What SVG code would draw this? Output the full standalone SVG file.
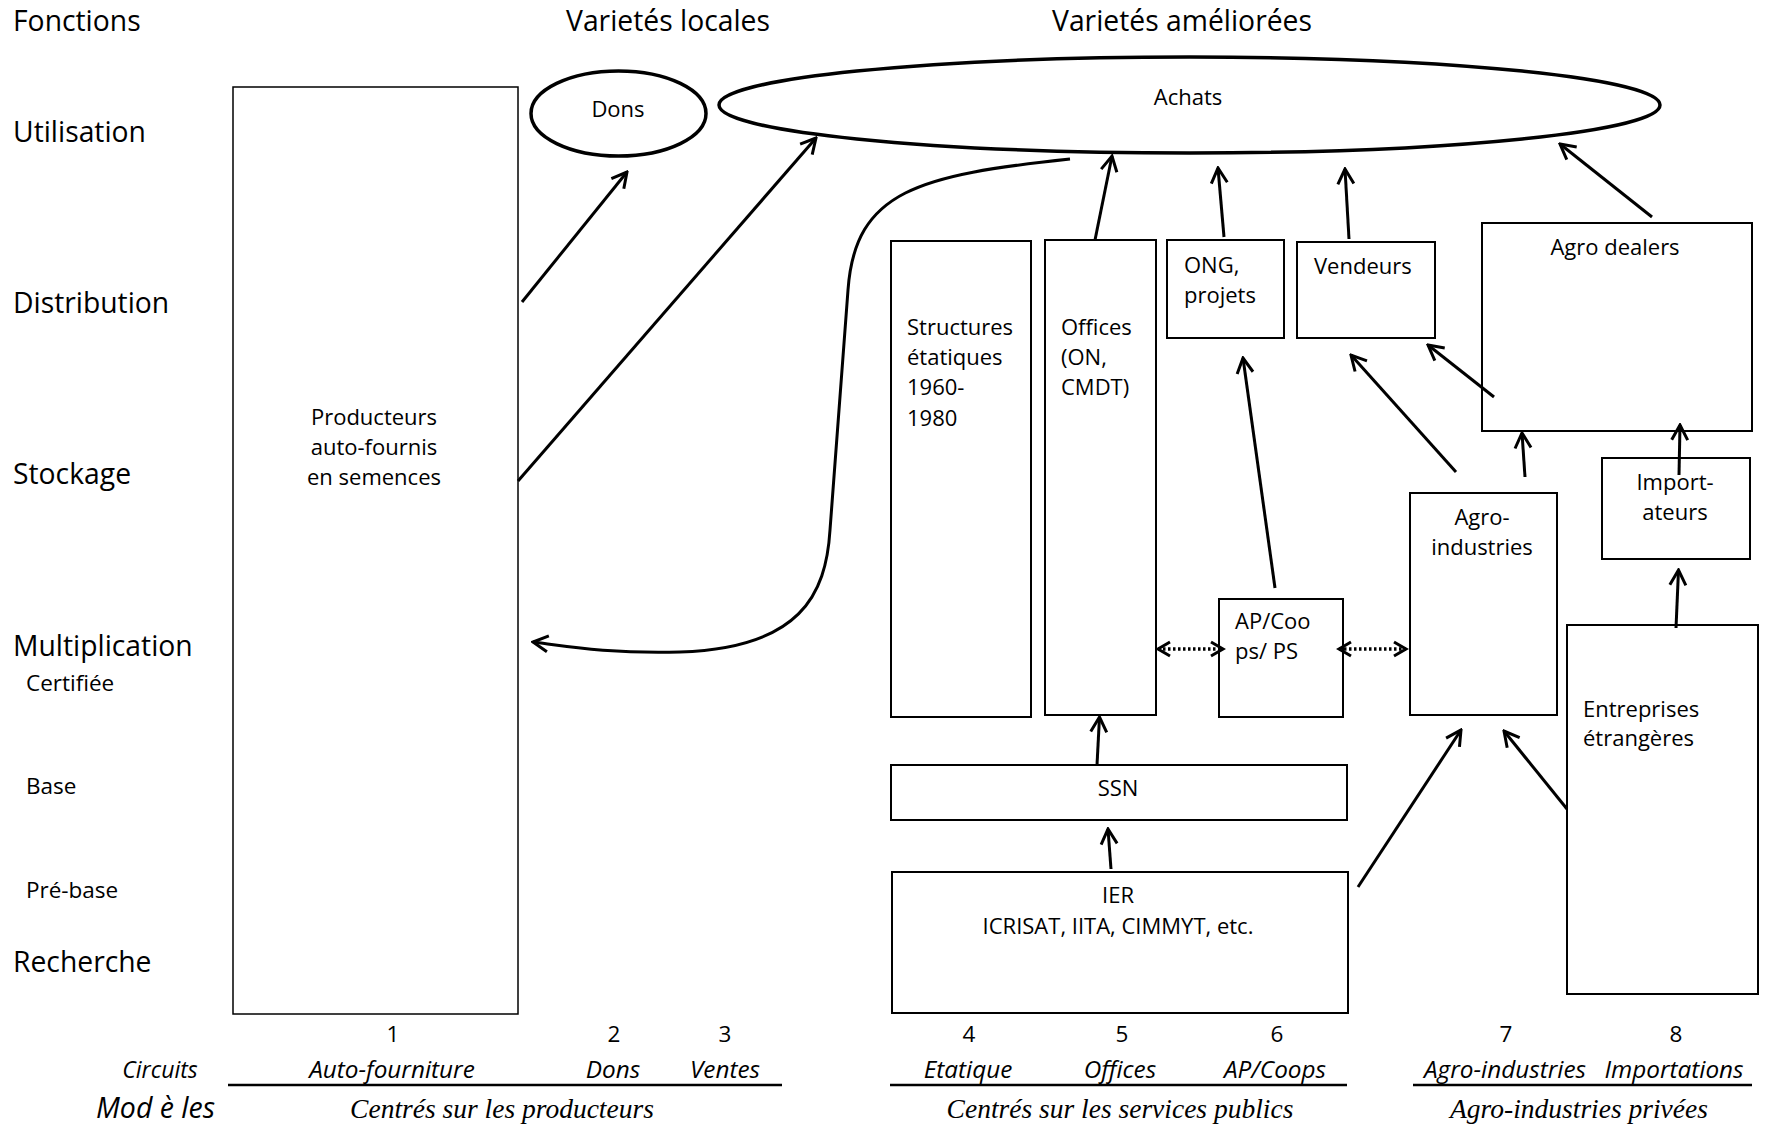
<svg xmlns="http://www.w3.org/2000/svg" width="1767" height="1131" viewBox="0 0 1767 1131">
<style>
text{font-family:"Open Sans","Liberation Sans",sans-serif;fill:#000}
.h{font-size:28.3px}
.b{font-size:22px}
.s{font-size:22.5px}
.it{font-style:italic;font-size:24.3px}
.ser{font-family:"Liberation Serif","Times New Roman",serif;font-style:italic;font-size:27.5px}
.c{text-anchor:middle}
.box{fill:#fff;stroke:#000;stroke-width:2}
.ell{fill:#fff;stroke:#000;stroke-width:3.5}
.ar{fill:none;stroke:#000;stroke-width:3;marker-end:url(#ah)}
.dot{fill:none;stroke:#000;stroke-width:3.5;stroke-dasharray:2.5 2.5;marker-start:url(#ah2);marker-end:url(#ah2)}
.rule{stroke:#000;stroke-width:2.5}
</style>
<defs>
<marker id="ah" viewBox="0 0 20 20" refX="18" refY="10" markerWidth="20" markerHeight="20" markerUnits="userSpaceOnUse" orient="auto">
<path d="M3,2 L18,10 L3,18" fill="none" stroke="#000" stroke-width="3"/>
</marker>
<marker id="ah2" viewBox="0 0 20 20" refX="17" refY="10" markerWidth="20" markerHeight="20" markerUnits="userSpaceOnUse" orient="auto-start-reverse">
<path d="M5,3 L17,10 L5,17" fill="none" stroke="#000" stroke-width="3"/>
</marker>
</defs>
<rect width="1767" height="1131" fill="#fff"/>

<g id="labels">
<text class="h" x="13" y="31">Fonctions</text>
<text class="h c" x="668" y="31">Varietés locales</text>
<text class="h c" x="1182" y="31">Varietés améliorées</text>
<text class="h" x="13" y="142">Utilisation</text>
<text class="h" x="13" y="313">Distribution</text>
<text class="h" x="13" y="484">Stockage</text>
<text class="h" x="13" y="656">Multiplication</text>
<text class="s" x="26" y="691">Certifiée</text>
<text class="s" x="26" y="794">Base</text>
<text class="s" x="26" y="898">Pré-base</text>
<text class="h" x="13" y="972">Recherche</text>
</g>

<g id="producteurs">
<rect x="233" y="87" width="285" height="927" fill="#fff" stroke="#000" stroke-width="1.5"/>
<text class="b c" x="374" y="425">Producteurs</text>
<text class="b c" x="374" y="455">auto-fournis</text>
<text class="b c" x="374" y="485">en semences</text>
</g>
<g id="dons">
<ellipse class="ell" cx="618.5" cy="113.5" rx="87.5" ry="42.5"/>
<text class="b c" x="618" y="117">Dons</text>
</g>
<g id="achats">
<ellipse class="ell" cx="1189.5" cy="105" rx="470.5" ry="48"/>
<text class="b c" x="1188" y="105">Achats</text>
</g>
<g id="structures">
<rect class="box" x="891" y="241" width="140" height="476"/>
<text class="b" x="907" y="335">Structures</text>
<text class="b" x="907" y="365">étatiques</text>
<text class="b" x="907" y="395">1960-</text>
<text class="b" x="907" y="426">1980</text>
</g>
<g id="offices">
<rect class="box" x="1045" y="240" width="111" height="475"/>
<text class="b" x="1061" y="335">Offices</text>
<text class="b" x="1061" y="365">(ON,</text>
<text class="b" x="1061" y="395">CMDT)</text>
</g>
<g id="ong">
<rect class="box" x="1167" y="240" width="117" height="98"/>
<text class="b" x="1184" y="273">ONG,</text>
<text class="b" x="1184" y="303">projets</text>
</g>
<g id="vendeurs">
<rect class="box" x="1297" y="242" width="138" height="96"/>
<text class="b" x="1314" y="274">Vendeurs</text>
</g>
<g id="agrodealers">
<rect class="box" x="1482" y="223" width="270" height="208"/>
<text class="b c" x="1615" y="255">Agro dealers</text>
</g>
<g id="importateurs">
<rect class="box" x="1602" y="458" width="148" height="101"/>
<text class="b c" x="1675" y="490">Import-</text>
<text class="b c" x="1675" y="520">ateurs</text>
</g>
<g id="agroindustries">
<rect class="box" x="1410" y="493" width="147" height="222"/>
<text class="b c" x="1482" y="525">Agro-</text>
<text class="b c" x="1482" y="555">industries</text>
</g>
<g id="apcoops">
<rect class="box" x="1219" y="599" width="124" height="118"/>
<text class="b" x="1235" y="629">AP/Coo</text>
<text class="b" x="1235" y="659">ps/ PS</text>
</g>
<g id="ssn">
<rect class="box" x="891" y="765" width="456" height="55"/>
<text class="b c" x="1118" y="796">SSN</text>
</g>
<g id="ier">
<rect class="box" x="892" y="872" width="456" height="141"/>
<text class="b c" x="1118" y="903">IER</text>
<text class="b c" x="1118" y="934">ICRISAT, IITA, CIMMYT, etc.</text>
</g>
<g id="entreprises">
<rect class="box" x="1567" y="625" width="191" height="369"/>
<text class="b" x="1583" y="717">Entreprises</text>
<text class="b" x="1583" y="746">étrangères</text>
</g>

<g id="connectors">
<path class="ar" d="M522,302 L627,172"/>
<path class="ar" d="M518,481 L816,138"/>
<path class="ar" d="M1070,159 C920,175 855,190 848,290 L830,530 C826,595 800,648 680,652 C610,654 565,646 533,642"/>
<path class="ar" d="M1095,240 L1112,156"/>
<path class="ar" d="M1224,237 L1218,168"/>
<path class="ar" d="M1349,239 L1345,169"/>
<path class="ar" d="M1652,217 L1560,144"/>
<path class="ar" d="M1494,397 L1428,345"/>
<path class="ar" d="M1456,472 L1351,355"/>
<path class="ar" d="M1525,477 L1522,433"/>
<path class="ar" d="M1679,475 L1680,425"/>
<path class="ar" d="M1275,588 L1243,358"/>
<path class="dot" d="M1158,649 L1223,649"/>
<path class="dot" d="M1339,649 L1406,649"/>
<path class="ar" d="M1097,765 L1099.5,717"/>
<path class="ar" d="M1111,869 L1108,829"/>
<path class="ar" d="M1358,887 L1461,730"/>
<path class="ar" d="M1567,809 L1504,731"/>
<path class="ar" d="M1676,628 L1678.5,570"/>
</g>

<g id="footer">
<text class="s c" x="393" y="1042">1</text>
<text class="s c" x="614" y="1042">2</text>
<text class="s c" x="725" y="1042">3</text>
<text class="s c" x="969" y="1042">4</text>
<text class="s c" x="1122" y="1042">5</text>
<text class="s c" x="1277" y="1042">6</text>
<text class="s c" x="1506" y="1042">7</text>
<text class="s c" x="1676" y="1042">8</text>
<text class="it c" x="160" y="1078" style="font-size:23px">Circuits</text>
<text class="it c" x="392" y="1078">Auto-fourniture</text>
<text class="it c" x="613" y="1078">Dons</text>
<text class="it c" x="725" y="1078">Ventes</text>
<text class="it c" x="968" y="1078">Etatique</text>
<text class="it c" x="1120" y="1078">Offices</text>
<text class="it c" x="1275" y="1078">AP/Coops</text>
<text class="it c" x="1505" y="1078">Agro-industries</text>
<text class="it c" x="1674" y="1078">Importations</text>
<line class="rule" x1="228" y1="1085" x2="782" y2="1085"/>
<line class="rule" x1="890" y1="1085" x2="1347" y2="1085"/>
<line class="rule" x1="1413" y1="1085" x2="1752" y2="1085"/>
<text x="96" y="1118" style="font-style:italic;font-size:28.5px">Mod è les</text>
<text class="ser c" x="502" y="1118">Centrés sur les producteurs</text>
<text class="ser c" x="1120" y="1118">Centrés sur les services publics</text>
<text class="ser c" x="1579" y="1118">Agro-industries privées</text>
</g>
</svg>
